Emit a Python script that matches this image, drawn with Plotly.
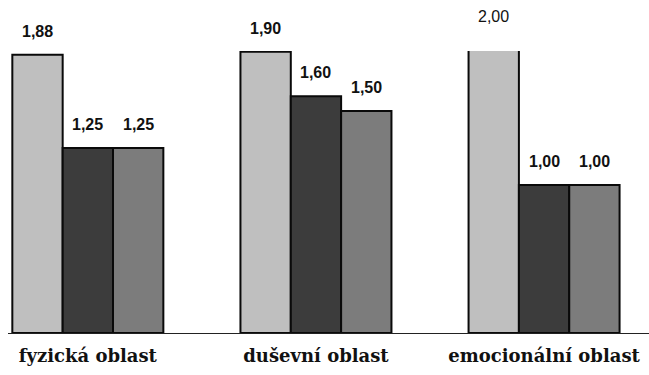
import plotly.graph_objects as go

categories = ["fyzická oblast", "duševní oblast", "emocionální oblast"]
series_a = [1.88, 1.90, 2.00]
series_b = [1.25, 1.60, 1.00]
series_c = [1.25, 1.50, 1.00]

colors = ["#bfbfbf", "#3c3c3c", "#7c7c7c"]
y_max = 1.905

fig = go.Figure()
all_series = [series_a, series_b, series_c]
for i, vals in enumerate(all_series):
    fig.add_trace(go.Bar(
        x=categories, y=vals, name=f"s{i+1}",
        marker=dict(color=colors[i], line=dict(color="#0a0a0a", width=2)),
        offsetgroup=str(i), showlegend=False,
    ))

# value labels above bars (paper coords so labels above the clipped range still show)
bar_w = (1 - 0.338) / 3
for i, vals in enumerate(all_series):
    off = (i - 1) * bar_w
    for j, v in enumerate(vals):
        inside = v <= y_max
        fig.add_annotation(
            x=j + off, y=v / y_max, xref="x", yref="paper",
            text=f"{v:.2f}".replace(".", ","),
            showarrow=False, yanchor="bottom", yshift=13 if inside else 10,
            font=dict(family="Liberation Sans, Arial", size=16, color="#111111",
                      weight="bold" if inside else "normal"),
        )

fig.update_layout(
    width=649, height=375,
    margin=dict(l=8, r=0, t=51, b=42),
    paper_bgcolor="white", plot_bgcolor="white",
    barmode="group", bargap=0.338, bargroupgap=0,
    xaxis=dict(
        type="category", range=[-0.35, 2.46],
        showline=True, linecolor="#222222", linewidth=1,
        ticks="", showgrid=False, ticklabelstandoff=6,
        tickfont=dict(family="DejaVu Serif", size=18,
                      color="#111111", weight="bold"),
    ),
    yaxis=dict(range=[0, y_max], visible=False, showgrid=False),
)

fig.write_html("out.html")
